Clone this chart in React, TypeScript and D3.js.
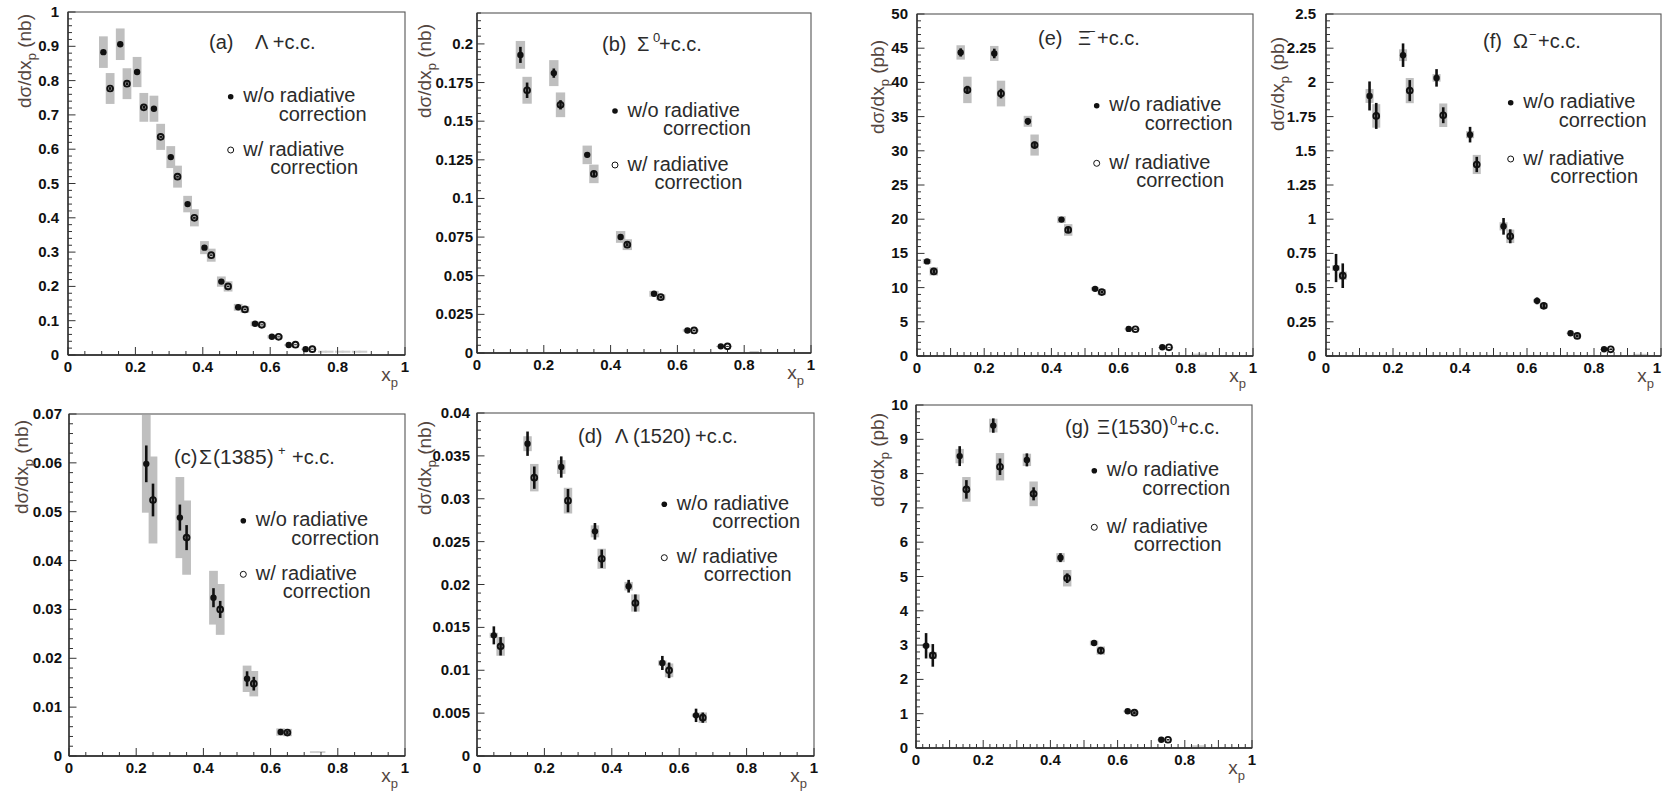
import React from "react";
import * as d3 from "d3";

// ---------------- DATA ----------------
// (a) Lambda + c.c.   (nb)
const aXwo = [0.105, 0.155, 0.205, 0.255, 0.305, 0.355, 0.405, 0.455, 0.505, 0.555, 0.605, 0.655, 0.705];
const aYwo = [0.883, 0.906, 0.825, 0.718, 0.577, 0.44, 0.313, 0.214, 0.139, 0.091, 0.053, 0.029, 0.017];
const aStatWo = [0.004, 0.004, 0.004, 0.003, 0.003, 0.003, 0.002, 0.002, 0.002, 0.001, 0.001, 0.001, 0.001];
const aSysWo = [0.046, 0.046, 0.044, 0.038, 0.032, 0.024, 0.019, 0.015, 0.01, 0.007, 0.005, 0.003, 0.002];
const aXw = [0.125, 0.175, 0.225, 0.275, 0.325, 0.375, 0.425, 0.475, 0.525, 0.575, 0.625, 0.675, 0.725];
const aYw = [0.777, 0.791, 0.722, 0.636, 0.52, 0.4, 0.291, 0.2, 0.133, 0.088, 0.053, 0.03, 0.017];
const aStatW = [0.004, 0.004, 0.004, 0.003, 0.003, 0.003, 0.002, 0.002, 0.002, 0.001, 0.001, 0.001, 0.001];
const aSysW = [0.045, 0.045, 0.042, 0.038, 0.032, 0.025, 0.019, 0.015, 0.01, 0.007, 0.005, 0.003, 0.002];
const aTailX = [0.755, 0.775, 0.805, 0.825, 0.855, 0.875];
const aTailY = [0.0096, 0.0096, 0.0096, 0.0096, 0.0096, 0.0096];
const aTailSys = [0.003, 0.003, 0.003, 0.003, 0.003, 0.003];
const aYTicks = [0, 0.1, 0.2, 0.3, 0.4, 0.5, 0.6, 0.7, 0.8, 0.9, 1];

// (b) Sigma0 + c.c.   (nb)
const bXwo = [0.13, 0.23, 0.33, 0.43, 0.53, 0.63, 0.73];
const bYwo = [0.1929, 0.1811, 0.1282, 0.0751, 0.0383, 0.0146, 0.0043];
const bStatWo = [0.0052, 0.003, 0.0015, 0.001, 0.0008, 0.0005, 0.0003];
const bSysWo = [0.009, 0.0084, 0.006, 0.0038, 0.0019, 0.0008, 0.0003];
const bXw = [0.15, 0.25, 0.35, 0.45, 0.55, 0.65, 0.75];
const bYw = [0.17, 0.1606, 0.1159, 0.0701, 0.0361, 0.0146, 0.0043];
const bStatW = [0.005, 0.003, 0.0015, 0.001, 0.0008, 0.0005, 0.0003];
const bSysW = [0.0087, 0.008, 0.006, 0.0035, 0.0019, 0.0008, 0.0003];
const bTailX = [0.83];
const bTailY = [0.0006];
const bTailSys = [0.0007];
const bYTicks = [0, 0.025, 0.05, 0.075, 0.1, 0.125, 0.15, 0.175, 0.2];

// (c) Sigma(1385)+ + c.c.   (nb)
const cXwo = [0.23, 0.33, 0.43, 0.53, 0.63];
const cYwo = [0.0598, 0.0488, 0.0324, 0.0158, 0.0049];
const cStatWo = [0.00376, 0.00266, 0.00195, 0.00154, 0.0004];
const cSysWo = [0.01, 0.0083, 0.0055, 0.0027, 0.00075];
const cXw = [0.25, 0.35, 0.45, 0.55, 0.65];
const cYw = [0.0524, 0.0447, 0.03, 0.0148, 0.0048];
const cStatW = [0.00335, 0.00256, 0.00174, 0.0014, 0.0004];
const cSysW = [0.0089, 0.0076, 0.0052, 0.0026, 0.00075];
const cTailX = [0.73, 0.75];
const cTailY = [0.0008, 0.0008];
const cTailSys = [0.0002, 0.0002];
const cYTicks = [0, 0.01, 0.02, 0.03, 0.04, 0.05, 0.06, 0.07];

// (d) Lambda(1520) + c.c.   (nb)
const dXwo = [0.05, 0.15, 0.25, 0.35, 0.45, 0.55, 0.65];
const dYwo = [0.01407, 0.03642, 0.0337, 0.0262, 0.0198, 0.01085, 0.00474];
const dStatWo = [0.00105, 0.00142, 0.00124, 0.00097, 0.00074, 0.00082, 0.00078];
const dSysWo = [0.0003, 0.00087, 0.0008, 0.0007, 0.0005, 0.0003, 0.0002];
const dXw = [0.07, 0.17, 0.27, 0.37, 0.47, 0.57, 0.67];
const dYw = [0.01279, 0.03246, 0.02978, 0.023, 0.01784, 0.00999, 0.00447];
const dStatW = [0.00107, 0.0013, 0.00136, 0.00107, 0.001, 0.00091, 0.0006];
const dSysW = [0.0011, 0.0016, 0.0015, 0.00117, 0.001, 0.0008, 0.0006];
const dTailX: number[] = [];
const dTailY: number[] = [];
const dTailSys: number[] = [];
const dYTicks = [0, 0.005, 0.01, 0.015, 0.02, 0.025, 0.03, 0.035, 0.04];

// (e) Xi- + c.c.   (pb)
const eXwo = [0.03, 0.13, 0.23, 0.33, 0.43, 0.53, 0.63, 0.73];
const eYwo = [13.83, 44.38, 44.23, 34.31, 19.94, 9.82, 3.96, 1.27];
const eStatWo = [0.3, 0.6, 0.7, 0.5, 0.3, 0.2, 0.1, 0.05];
const eSysWo = [0.35, 1.05, 1.1, 0.8, 0.5, 0.25, 0.1, 0.04];
const eXw = [0.05, 0.15, 0.25, 0.35, 0.45, 0.55, 0.65, 0.75];
const eYw = [12.37, 38.9, 38.37, 30.84, 18.43, 9.34, 3.91, 1.27];
const eStatW = [0.3, 0.6, 0.7, 0.5, 0.3, 0.2, 0.1, 0.05];
const eSysW = [0.6, 1.93, 1.88, 1.54, 0.85, 0.45, 0.15, 0.05];
const eTailX = [0.83, 0.85];
const eTailY = [0.25, 0.25];
const eTailSys = [0.1, 0.1];
const eYTicks = [0, 5, 10, 15, 20, 25, 30, 35, 40, 45, 50];

// (f) Omega- + c.c.   (pb)
const fXwo = [0.03, 0.13, 0.23, 0.33, 0.43, 0.53, 0.63, 0.73, 0.83];
const fYwo = [0.643, 1.901, 2.199, 2.033, 1.618, 0.948, 0.403, 0.166, 0.049];
const fStatWo = [0.103, 0.106, 0.086, 0.064, 0.057, 0.061, 0.025, 0.012, 0.006];
const fSysWo = [0.02, 0.051, 0.043, 0.028, 0.026, 0.03, 0.012, 0.005, 0.002];
const fXw = [0.05, 0.15, 0.25, 0.35, 0.45, 0.55, 0.65, 0.75, 0.85];
const fYw = [0.587, 1.755, 1.94, 1.76, 1.4, 0.875, 0.367, 0.147, 0.049];
const fStatW = [0.09, 0.095, 0.077, 0.058, 0.056, 0.051, 0.022, 0.011, 0.006];
const fSysW = [0.03, 0.086, 0.092, 0.086, 0.07, 0.049, 0.02, 0.008, 0.003];
const fTailX = [0.93, 0.95];
const fTailY = [0.01, 0.01];
const fTailSys = [0.006, 0.006];
const fYTicks = [0, 0.25, 0.5, 0.75, 1, 1.25, 1.5, 1.75, 2, 2.25, 2.5];

// (g) Xi(1530)0 + c.c.   (pb)
const gXwo = [0.03, 0.13, 0.23, 0.33, 0.43, 0.53, 0.63, 0.73];
const gYwo = [2.98, 8.51, 9.4, 8.4, 5.55, 3.06, 1.07, 0.24];
const gStatWo = [0.37, 0.29, 0.21, 0.19, 0.13, 0.07, 0.04, 0.02];
const gSysWo = [0.05, 0.21, 0.2, 0.18, 0.13, 0.07, 0.03, 0.01];
const gXw = [0.05, 0.15, 0.25, 0.35, 0.45, 0.55, 0.65, 0.75];
const gYw = [2.7, 7.54, 8.2, 7.41, 4.95, 2.84, 1.03, 0.24];
const gStatW = [0.33, 0.27, 0.24, 0.19, 0.14, 0.07, 0.04, 0.02];
const gSysW = [0.1, 0.36, 0.4, 0.36, 0.24, 0.12, 0.05, 0.01];
const gTailX = [0.83, 0.85];
const gTailY = [0.05, 0.05];
const gTailSys = [0.03, 0.03];
const gYTicks = [0, 1, 2, 3, 4, 5, 6, 7, 8, 9, 10];

const xTickLabels = [0, 0.2, 0.4, 0.6, 0.8, 1];
const legendWo = "w/o radiative";
const legendW = "w/ radiative";
const legendCorr = "correction";

// ---------------- RENDER ----------------
const TXT = "#2b2b2b";
const AXT = "#54463f";
const BOX = "#bfbfbf";
const FONT = "'Liberation Sans', Arial, Helvetica, sans-serif";

type Series = { x: number[]; y: number[]; stat: number[]; sys: number[] };
type PanelCfg = {
  key: string;
  left: number; right: number; top: number; bottom: number;
  ymax: number; yTicks: number[]; yMinor: number; xMinor: number; xMid?: number;
  wo: Series; w: Series; tail: { x: number[]; y: number[]; sys: number[] };
  boxHalf: number;
  unit: string;
  ylab: { x: number; y: number };
  tickGap: number;
  lastXLabelShift?: number;
  title: { parts: { t: string; x: number; sup?: boolean; size?: number }[]; y: number };
  legend: { x: number; y1: number; y2: number };
};

const fmt = (v: number) => String(+v.toPrecision(6));

function Panel({ p }: { p: PanelCfg }) {
  const xs = d3.scaleLinear().domain([0, 1]).range([p.left, p.right]);
  const ys = d3.scaleLinear().domain([0, p.ymax]).range([p.bottom, p.top]);
  const yMinorTicks = d3.range(0, p.ymax + p.yMinor / 2, p.yMinor);
  const xMinorTicks = d3.range(0, 1 + p.xMinor / 2, p.xMinor);
  const isMajX = (v: number) => Math.abs(v * 5 - Math.round(v * 5)) < 1e-6;
  const isMidX = (v: number) => p.xMid ? Math.abs(v / p.xMid - Math.round(v / p.xMid)) < 1e-6 : false;
  const isMajY = (v: number) => p.yTicks.some((t) => Math.abs(t - v) < p.yMinor / 10);

  const boxes = (s: { x: number[]; y: number[]; sys: number[] }, color: string) =>
    s.x.map((xv, i) => (
      <rect key={i} x={xs(xv - p.boxHalf)} width={xs(xv + p.boxHalf) - xs(xv - p.boxHalf)}
        y={ys(s.y[i] + s.sys[i])} height={Math.max(1, ys(s.y[i] - s.sys[i]) - ys(s.y[i] + s.sys[i]))}
        fill={color} />
    ));
  const bars = (s: Series) =>
    s.x.map((xv, i) => (
      <line key={i} x1={xs(xv)} x2={xs(xv)} y1={ys(s.y[i] + s.stat[i])} y2={ys(s.y[i] - s.stat[i])}
        stroke="#111" strokeWidth={2.6} />
    ));

  const lg = p.legend;
  return (
    <g>
      {/* systematic boxes */}
      {boxes(p.tail, "#cfcfcf")}
      {boxes(p.wo, BOX)}
      {boxes(p.w, BOX)}
      {/* frame */}
      <rect x={p.left} y={p.top} width={p.right - p.left} height={p.bottom - p.top} fill="none" stroke="#555" strokeWidth={1.1} />
      <line x1={p.left} x2={p.left} y1={p.top} y2={p.bottom} stroke="#222" strokeWidth={1.3} />
      <line x1={p.left} x2={p.right} y1={p.bottom} y2={p.bottom} stroke="#222" strokeWidth={1.3} />
      {/* y ticks */}
      {yMinorTicks.map((v, i) => (
        <line key={"ym" + i} x1={p.left} x2={p.left + (isMajY(v) ? 7.5 : 4)} y1={ys(v)} y2={ys(v)} stroke="#333" strokeWidth={1} />
      ))}
      {p.yTicks.map((v, i) => (
        <text key={"yl" + i} x={p.left - p.tickGap} y={ys(v) + 5} textAnchor="end" fontSize={15} fontWeight="bold" fill="#111" fontFamily={FONT}>
          {fmt(v)}
        </text>
      ))}
      {/* x ticks */}
      {xMinorTicks.map((v, i) => (
        <line key={"xm" + i} x1={xs(v)} x2={xs(v)} y1={p.bottom} y2={p.bottom - (isMajX(v) || isMidX(v) ? 8 : 4)} stroke="#333" strokeWidth={1} />
      ))}
      {xTickLabels.map((v, i) => (
        <text key={"xl" + i} x={xs(v) - (v === 1 ? p.lastXLabelShift || 0 : 0)} y={p.bottom + 17} textAnchor="middle" fontSize={15} fontWeight="bold" fill="#111" fontFamily={FONT}>
          {fmt(v)}
        </text>
      ))}
      {/* stat error bars */}
      {bars(p.wo)}
      {bars(p.w)}
      {/* markers */}
      {p.wo.x.map((xv, i) => (
        <circle key={"f" + i} cx={xs(xv)} cy={ys(p.wo.y[i])} r={3.2} fill="#111" />
      ))}
      {p.w.x.map((xv, i) => (
        <circle key={"o" + i} cx={xs(xv)} cy={ys(p.w.y[i])} r={2.9} fill="none" stroke="#111" strokeWidth={1.9} />
      ))}
      {/* axis titles */}
      <text transform={`translate(${p.ylab.x},${p.ylab.y}) rotate(-90)`} textAnchor="end" fontSize={19} fill={AXT} fontFamily={FONT}>
        dσ/dx<tspan fontSize={13} dy={5}>p</tspan><tspan dy={-5}>{"  (" + p.unit + ")"}</tspan>
      </text>
      <text x={p.right - 7} y={p.bottom + 26} textAnchor="end" fontSize={19} fill={AXT} fontFamily={FONT}>
        x<tspan fontSize={13} dy={6}>p</tspan>
      </text>
      {/* title */}
      <text y={p.title.y} fontSize={20} fill={TXT} fontFamily={FONT}>
        {p.title.parts.map((pt, i) => (
          <tspan key={i} x={pt.x} y={pt.sup ? p.title.y - 9 : p.title.y} fontSize={pt.size || (pt.sup ? 13 : 20)}>{pt.t}</tspan>
        ))}
      </text>
      {/* legend */}
      <circle cx={lg.x} cy={lg.y1} r={2.8} fill="#111" />
      <circle cx={lg.x} cy={lg.y2} r={3} fill="none" stroke="#111" strokeWidth={1} />
      <g fontSize={20} fill={TXT} fontFamily={FONT}>
        <text x={lg.x + 12.5} y={lg.y1 + 5.5}>{legendWo}</text>
        <text x={lg.x + 48} y={lg.y1 + 24}>{legendCorr}</text>
        <text x={lg.x + 12.5} y={lg.y2 + 5.5}>{legendW}</text>
        <text x={lg.x + 39.5} y={lg.y2 + 23.5}>{legendCorr}</text>
      </g>
    </g>
  );
}

const panels: PanelCfg[] = [
  {
    key: "a", left: 68, right: 405, top: 12, bottom: 355, ymax: 1, yTicks: aYTicks, yMinor: 0.02, xMinor: 0.05,
    wo: { x: aXwo, y: aYwo, stat: aStatWo, sys: aSysWo }, w: { x: aXw, y: aYw, stat: aStatW, sys: aSysW },
    tail: { x: aTailX, y: aTailY, sys: aTailSys }, boxHalf: 0.013, unit: "nb", ylab: { x: 31, y: 14 }, tickGap: 9,
    title: { y: 49, parts: [{ t: "(a)", x: 209 }, { t: "Λ +c.c.", x: 255 }] },
    legend: { x: 230.7, y1: 96.7, y2: 150 },
  },
  {
    key: "b", left: 477, right: 811, top: 13, bottom: 353, ymax: 0.22, yTicks: bYTicks, yMinor: 0.005, xMinor: 0.05,
    wo: { x: bXwo, y: bYwo, stat: bStatWo, sys: bSysWo }, w: { x: bXw, y: bYw, stat: bStatW, sys: bSysW },
    tail: { x: bTailX, y: bTailY, sys: bTailSys }, boxHalf: 0.014, unit: "nb", ylab: { x: 431, y: 24 }, tickGap: 4,
    title: { y: 51, parts: [{ t: "(b)", x: 602 }, { t: "Σ", x: 637 }, { t: "0", x: 653, sup: true }, { t: "+c.c.", x: 659 }] },
    legend: { x: 615, y1: 111, y2: 165 },
  },
  {
    key: "e", left: 917, right: 1253, top: 14, bottom: 356, ymax: 50, yTicks: eYTicks, yMinor: 1, xMinor: 0.02, xMid: 0.1,
    wo: { x: eXwo, y: eYwo, stat: eStatWo, sys: eSysWo }, w: { x: eXw, y: eYw, stat: eStatW, sys: eSysW },
    tail: { x: eTailX, y: eTailY, sys: eTailSys }, boxHalf: 0.0125, unit: "pb", ylab: { x: 884, y: 40 }, tickGap: 9,
    title: { y: 45, parts: [{ t: "(e)", x: 1038 }, { t: "Ξ", x: 1078 }, { t: "−", x: 1088, sup: true }, { t: "+c.c.", x: 1097 }] },
    legend: { x: 1096.7, y1: 105.7, y2: 163.3 },
  },
  {
    key: "f", left: 1326, right: 1661, top: 14, bottom: 356, ymax: 2.5, yTicks: fYTicks, yMinor: 0.05, xMinor: 0.02, xMid: 0.1,
    wo: { x: fXwo, y: fYwo, stat: fStatWo, sys: fSysWo }, w: { x: fXw, y: fYw, stat: fStatW, sys: fSysW },
    tail: { x: fTailX, y: fTailY, sys: fTailSys }, boxHalf: 0.012, unit: "pb", ylab: { x: 1284, y: 37 }, tickGap: 10,
    lastXLabelShift: 4,
    title: { y: 48, parts: [{ t: "(f)", x: 1483 }, { t: "Ω", x: 1513 }, { t: "−", x: 1529, sup: true }, { t: "+c.c.", x: 1538 }] },
    legend: { x: 1510.7, y1: 102.7, y2: 159 },
  },
  {
    key: "c", left: 69, right: 405, top: 414, bottom: 756, ymax: 0.07, yTicks: cYTicks, yMinor: 0.002, xMinor: 0.05,
    wo: { x: cXwo, y: cYwo, stat: cStatWo, sys: cSysWo }, w: { x: cXw, y: cYw, stat: cStatW, sys: cSysW },
    tail: { x: cTailX, y: cTailY, sys: cTailSys }, boxHalf: 0.013, unit: "nb", ylab: { x: 28, y: 420 }, tickGap: 7,
    title: { y: 464, parts: [{ t: "(c)", x: 174 }, { t: "Σ", x: 199, size: 21 }, { t: "(1385)", x: 213, size: 21 }, { t: "+", x: 278, sup: true }, { t: "+c.c.", x: 292 }] },
    legend: { x: 243.3, y1: 520.7, y2: 574.3 },
  },
  {
    key: "d", left: 477, right: 814, top: 413, bottom: 756, ymax: 0.04, yTicks: dYTicks, yMinor: 0.001, xMinor: 0.05,
    wo: { x: dXwo, y: dYwo, stat: dStatWo, sys: dSysWo }, w: { x: dXw, y: dYw, stat: dStatW, sys: dSysW },
    tail: { x: dTailX, y: dTailY, sys: dTailSys }, boxHalf: 0.0125, unit: "nb", ylab: { x: 431, y: 421 }, tickGap: 7,
    title: { y: 443, parts: [{ t: "(d)", x: 578 }, { t: "Λ", x: 615 }, { t: "(1520)", x: 633 }, { t: "+c.c.", x: 695 }] },
    legend: { x: 664.3, y1: 504.3, y2: 557.7 },
  },
  {
    key: "g", left: 916, right: 1252, top: 405, bottom: 748, ymax: 10, yTicks: gYTicks, yMinor: 0.2, xMinor: 0.02, xMid: 0.1,
    wo: { x: gXwo, y: gYwo, stat: gStatWo, sys: gSysWo }, w: { x: gXw, y: gYw, stat: gStatW, sys: gSysW },
    tail: { x: gTailX, y: gTailY, sys: gTailSys }, boxHalf: 0.0125, unit: "pb", ylab: { x: 884, y: 413 }, tickGap: 8,
    title: { y: 434, parts: [{ t: "(g)", x: 1065 }, { t: "Ξ", x: 1097 }, { t: "(1530)", x: 1111 }, { t: "0", x: 1170, sup: true }, { t: "+c.c.", x: 1177 }] },
    legend: { x: 1094.3, y1: 470.7, y2: 527.3 },
  },
];

export default function App() {
  return (
    <svg width={1662} height={793} style={{ position: "absolute", left: 0, top: 0, background: "#fff" }}>
      <rect x={0} y={0} width={1662} height={793} fill="#fff" />
      {panels.map((p) => (
        <Panel key={p.key} p={p} />
      ))}
    </svg>
  );
}
